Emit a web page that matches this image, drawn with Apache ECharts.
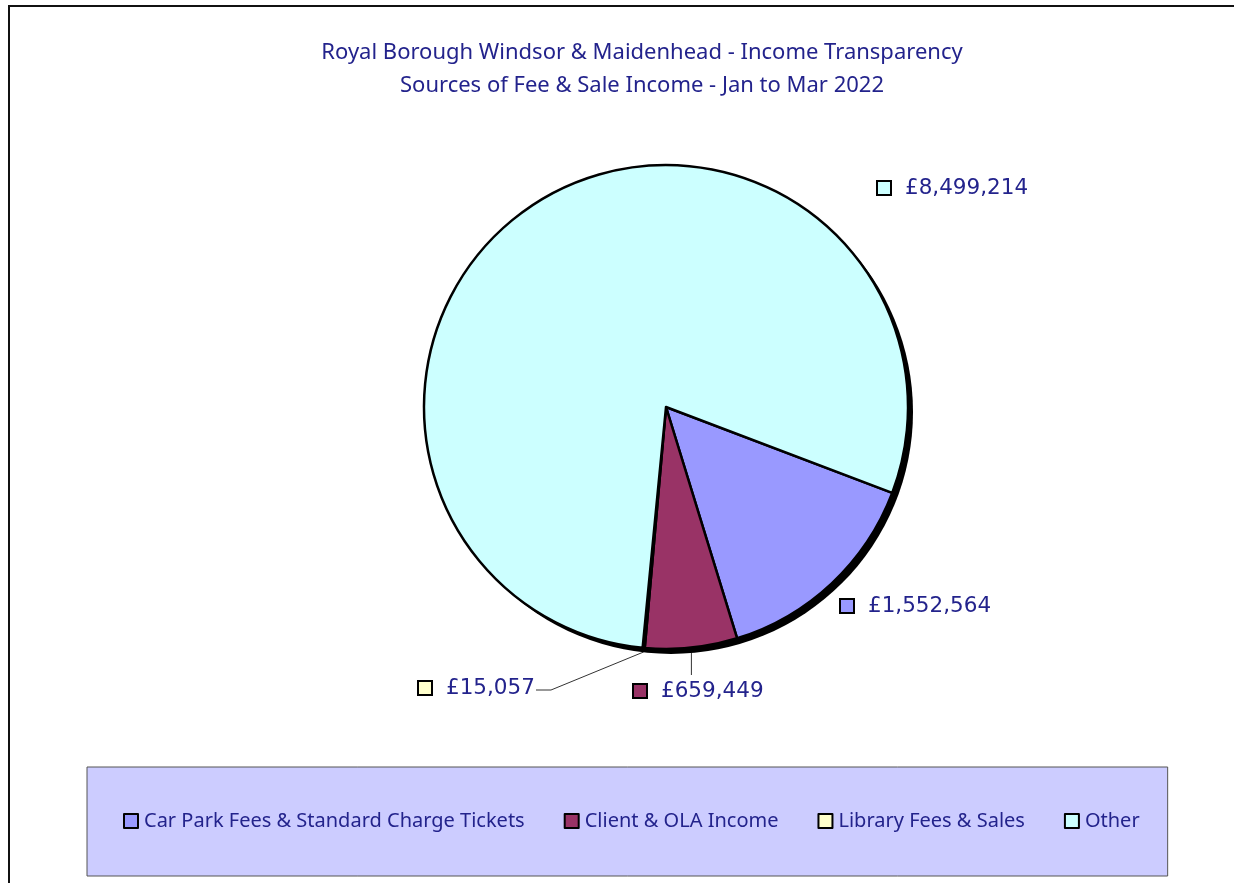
<!DOCTYPE html>
<html>
<head>
<meta charset="utf-8">
<script src="https://cdn.jsdelivr.net/npm/echarts@6/dist/echarts.min.js"></script>
<style>
  html, body { margin: 0; padding: 0; background: #fff; }
  #chart { width: 1234px; height: 883px; }
</style>
</head>
<body>
<div id="chart"></div>
<script>
const categories = ['Car Park Fees & Standard Charge Tickets', 'Client & OLA Income', 'Library Fees & Sales', 'Other']
const values = [1552564, 659449, 15057, 8499214]
const colors = ['#9999ff', '#993366', '#ffffcc', '#ccffff']

const textColor = '#23238c'
const pieCenter = [666, 407]
const pieRadius = 242

// where Excel put each data label (left edge of the little square, vertical middle)
const labelSpots = [[841, 606], [634, 691], [419, 688], [878, 188]]

const chart = echarts.init(document.getElementById('chart'))

function money(v) {
  return '£' + v.toLocaleString('en-GB')
}

const pieData = categories.map((name, i) => ({
  name,
  value: values[i],
  itemStyle: { color: colors[i] },
  label: {
    rich: {
      box: { width: 12, height: 12, borderWidth: 2, borderColor: '#000', backgroundColor: colors[i] },
      txt: { fontFamily: 'DejaVu Sans', fontSize: 21.5, color: textColor, padding: [0, 0, 0, 15] }
    }
  },
  labelLine: { show: i === 1 || i === 2 }
}))

chart.setOption({
  animation: false,
  backgroundColor: '#fff',
  title: {
    text: 'Royal Borough Windsor & Maidenhead - Income Transparency\nSources of Fee & Sale Income - Jan to Mar 2022',
    left: 637,
    top: 31,
    textAlign: 'center',
    textStyle: { color: textColor, fontFamily: 'Noto Sans', fontWeight: 'normal', fontSize: 22, lineHeight: 33 }
  },
  legend: {
    data: categories,
    left: 87,
    top: 767,
    padding: [44, 28, 45, 36],
    backgroundColor: '#ccccff',
    borderColor: '#555',
    borderWidth: 1,
    itemGap: 39,
    itemWidth: 14,
    itemHeight: 14,
    icon: 'rect',
    itemStyle: { borderColor: '#000', borderWidth: 2 },
    selectedMode: false,
    textStyle: { color: textColor, fontFamily: 'Noto Sans', fontSize: 20, padding: [0, 0, 0, 1] }
  },
  graphic: [{
    type: 'polyline',
    shape: { points: [[9, 883], [9, 6], [1234, 6]] },
    style: { stroke: '#111', lineWidth: 2, fill: null }
  }],
  series: [
    {
      // flat black drop shadow behind the pie
      type: 'pie',
      silent: true,
      center: [pieCenter[0] + 5, pieCenter[1] + 5],
      radius: pieRadius,
      label: { show: false },
      labelLine: { show: false },
      itemStyle: { color: '#000' },
      data: [{ value: 1, name: '' }]
    },
    {
      type: 'pie',
      center: pieCenter,
      radius: pieRadius,
      startAngle: -20.8,
      clockwise: true,
      avoidLabelOverlap: false,
      itemStyle: { borderColor: '#000', borderWidth: 2.5 },
      emphasis: { disabled: true },
      label: {
        show: true,
        position: 'outside',
        formatter: p => '{box|}{txt|' + money(p.value) + '}'
      },
      labelLine: { lineStyle: { color: '#333', width: 1 }, length: 20, length2: 10 },
      labelLayout: params => {
        const i = params.dataIndex
        const spot = labelSpots[i]
        const out = { x: spot[0], y: spot[1], align: 'left', verticalAlign: 'middle' }
        const start = params.labelLinePoints && params.labelLinePoints[0]
        if (start && i === 1) {
          out.labelLinePoints = [[start[0], start[1] + 5], [start[0], spot[1] - 16], [start[0], spot[1] - 16]]
        }
        if (start && i === 2) {
          const textEnd = spot[0] + 117
          out.labelLinePoints = [[start[0], start[1] + 4], [textEnd + 15, spot[1] + 2], [textEnd, spot[1] + 2]]
        }
        return out
      },
      data: pieData
    }
  ]
})
</script>
</body>
</html>
